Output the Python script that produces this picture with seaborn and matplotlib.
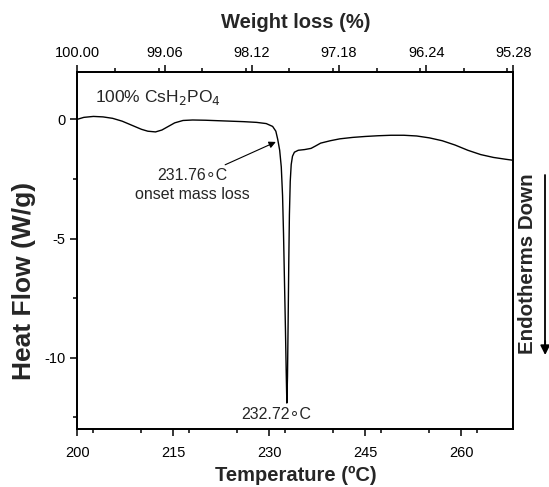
import numpy as np
import pandas as pd
import seaborn as sns
import matplotlib.pyplot as plt
from matplotlib.ticker import MultipleLocator

# DSC trace
temperature = [200.0, 201.0, 202.5, 204.0, 205.5, 207.0, 208.5, 210.0, 211.0, 212.2,
               213.2, 214.2, 215.2, 216.5, 218.0, 220.0, 222.0, 224.0, 226.0, 228.0,
               229.5, 230.5, 231.0, 231.3, 231.6, 231.85, 232.05, 232.2, 232.35, 232.5,
               232.62, 232.72, 232.82, 232.92, 233.02, 233.12, 233.25, 233.4, 233.6, 233.9,
               234.5, 235.5, 236.5, 237.2, 238.0, 239.5, 241.0, 243.0, 245.0, 247.0,
               249.0, 251.0, 253.0, 255.0, 257.0, 259.0, 261.0, 263.0, 265.0, 267.0, 268.1]
heat_flow = [0.00, 0.08, 0.12, 0.10, 0.04, -0.08, -0.25, -0.42, -0.50, -0.53,
             -0.45, -0.30, -0.15, -0.05, -0.03, -0.04, -0.06, -0.08, -0.10, -0.13,
             -0.18, -0.30, -0.50, -0.85, -1.30, -2.0, -3.2, -4.8, -6.8, -8.8,
             -10.6, -11.9, -10.8, -8.5, -6.0, -4.0, -2.6, -1.9, -1.55, -1.38,
             -1.30, -1.27, -1.22, -1.12, -1.00, -0.90, -0.82, -0.76, -0.72, -0.69,
             -0.67, -0.67, -0.70, -0.78, -0.90, -1.08, -1.30, -1.48, -1.60, -1.68, -1.72]

weight_ticks = [100.00, 99.056, 98.112, 97.168, 96.224, 95.28]
weight_labels = ["100.00", "99.06", "98.12", "97.18", "96.24", "95.28"]

df = pd.DataFrame({"T": temperature, "HF": heat_flow})

sns.set_style("ticks")
plt.rcParams["font.family"] = ["Liberation Sans", "DejaVu Sans"]
plt.rcParams["axes.unicode_minus"] = False
plt.rcParams["xtick.major.size"] = 5
plt.rcParams["ytick.major.size"] = 5
plt.rcParams["xtick.minor.size"] = 3
plt.rcParams["ytick.minor.size"] = 3

fig = plt.figure(figsize=(5.49, 4.87), dpi=100)
ax = fig.add_axes([0.141, 0.1185, 0.794, 0.7345])

sns.lineplot(data=df, x="T", y="HF", color="black", lw=1.0, estimator=None, ax=ax)

ax.set_xlim(200, 268.1)
ax.set_ylim(-13, 2)
ax.set_xticks([200, 215, 230, 245, 260])
ax.set_yticks([0, -5, -10])
ax.xaxis.set_minor_locator(MultipleLocator(7.5))
ax.yaxis.set_minor_locator(MultipleLocator(2.5))
ax.tick_params(which="both", labelsize=10.5, width=1.1, colors="black")
ax.tick_params(axis="x", pad=7)
for s in ax.spines.values():
    s.set_linewidth(1.3)
    s.set_color("black")

ax.set_xlabel("Temperature (ºC)", fontsize=14.5, fontweight="bold", labelpad=4)
ax.set_ylabel("")
# y label sits a little below the axes centre in the original
fig.text(0.043, 0.423, "Heat Flow (W/g)", rotation=90, fontsize=19, fontweight="bold",
         ha="center", va="center")

# top axis: weight loss
top = ax.twiny()
top.set_xlim(100.00, 95.28)
top.set_xticks(weight_ticks)
top.set_xticklabels(weight_labels)
top.xaxis.set_minor_locator(MultipleLocator(0.472))
top.tick_params(which="both", labelsize=10.5, width=1.1, colors="black")
top.set_xlabel("Weight loss (%)", fontsize=14.5, fontweight="bold", labelpad=13)
for s in top.spines.values():
    s.set_linewidth(1.3)
    s.set_color("black")

ax.text(202.7, 0.92, "100% CsH$_2$PO$_4$", fontsize=12.5, va="center", ha="left")

ax.annotate("231.76\u2218C\nonset mass loss", xy=(231.0, -0.95), xytext=(218.0, -2.75),
            fontsize=11.5, ha="center", va="center", linespacing=1.3,
            arrowprops=dict(arrowstyle="-|>", color="black", lw=0.8, mutation_scale=10,
                            shrinkA=0, shrinkB=0, relpos=(0.72, 1.0)))
ax.text(231.1, -12.4, "232.72\u2218C", fontsize=11.5, ha="center", va="center")

fig.text(0.961, 0.458, "Endotherms Down", rotation=90, fontsize=14.8, fontweight="bold",
         ha="center", va="center")
fig.add_artist(plt.Line2D([0.993, 0.993], [0.641, 0.29], color="black", lw=1.3))
ax.annotate("", xy=(0.993, 0.271), xytext=(0.993, 0.30), xycoords="figure fraction",
            arrowprops=dict(arrowstyle="-|>", color="black", lw=1.3, mutation_scale=14,
                            shrinkA=0, shrinkB=0))

fig.savefig("out.png", dpi=100)
